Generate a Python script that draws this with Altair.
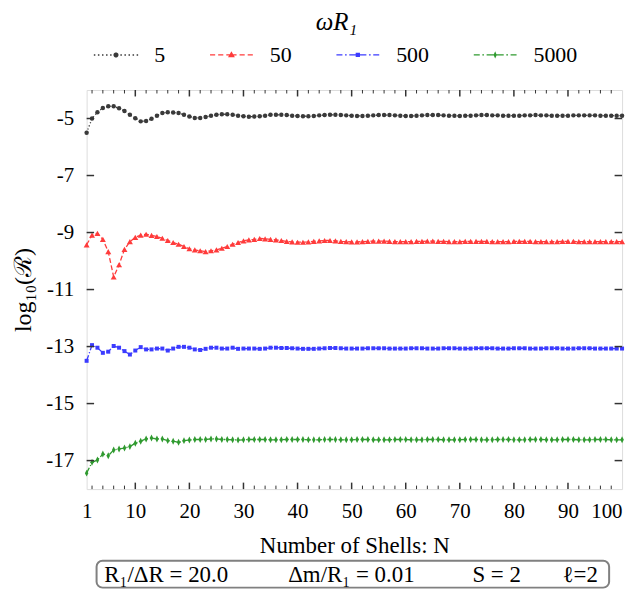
import altair as alt
import pandas as pd
import numpy as np

# ---------------- data ----------------
N = list(range(1, 101))
series_labels = ["5", "50", "500", "5000"]

y_5 = [-5.50, -5.00, -4.78, -4.63, -4.57, -4.57, -4.64, -4.74, -4.87, -4.99,
       -5.10, -5.09, -5.01, -4.90, -4.81, -4.78, -4.79, -4.81, -4.87, -4.93,
       -4.98, -4.98, -4.95, -4.90, -4.87, -4.85, -4.85, -4.87, -4.90, -4.92,
       -4.94, -4.93, -4.92, -4.90, -4.87, -4.87, -4.87, -4.88, -4.90, -4.91,
       -4.92, -4.92, -4.91, -4.89, -4.88, -4.87, -4.87, -4.88, -4.89, -4.90,
       -4.91, -4.91, -4.90, -4.89, -4.88, -4.88, -4.88, -4.89, -4.90, -4.91,
       -4.91, -4.90, -4.89, -4.88, -4.88, -4.88, -4.89, -4.90, -4.90, -4.91,
       -4.90, -4.90, -4.89, -4.88, -4.88, -4.89, -4.89, -4.90, -4.90, -4.90,
       -4.90, -4.89, -4.89, -4.88, -4.89, -4.89, -4.90, -4.90, -4.90, -4.90,
       -4.89, -4.89, -4.89, -4.89, -4.89, -4.90, -4.90, -4.90, -4.90, -4.90]

y_50 = [-9.43, -9.09, -9.03, -9.24, -9.67, -10.56, -10.13, -9.59, -9.32, -9.17,
        -9.09, -9.06, -9.10, -9.14, -9.20, -9.28, -9.35, -9.41, -9.49, -9.57,
        -9.61, -9.64, -9.67, -9.64, -9.61, -9.55, -9.49, -9.41, -9.35, -9.29,
        -9.26, -9.24, -9.21, -9.22, -9.24, -9.26, -9.28, -9.31, -9.33, -9.34,
        -9.34, -9.33, -9.31, -9.29, -9.28, -9.28, -9.29, -9.31, -9.32, -9.33,
        -9.33, -9.32, -9.31, -9.30, -9.30, -9.30, -9.31, -9.32, -9.32, -9.32,
        -9.32, -9.31, -9.31, -9.30, -9.30, -9.31, -9.31, -9.32, -9.32, -9.32,
        -9.31, -9.31, -9.31, -9.31, -9.31, -9.32, -9.32, -9.32, -9.32, -9.31,
        -9.31, -9.31, -9.31, -9.32, -9.32, -9.32, -9.32, -9.32, -9.31, -9.31,
        -9.31, -9.32, -9.32, -9.32, -9.32, -9.32, -9.32, -9.32, -9.32, -9.32]

y_500 = [-13.50, -12.95, -13.04, -13.22, -13.18, -12.98, -13.04, -13.16, -13.28, -13.14,
         -13.02, -13.10, -13.10, -13.07, -13.07, -13.14, -13.07, -13.01, -13.01, -13.04,
         -13.10, -13.12, -13.08, -13.04, -13.04, -13.07, -13.07, -13.04, -13.08, -13.07,
         -13.07, -13.07, -13.08, -13.07, -13.04, -13.04, -13.05, -13.05, -13.06, -13.07,
         -13.08, -13.08, -13.08, -13.07, -13.06, -13.05, -13.05, -13.06, -13.07, -13.07,
         -13.07, -13.07, -13.06, -13.06, -13.06, -13.06, -13.07, -13.07, -13.07, -13.07,
         -13.06, -13.06, -13.06, -13.07, -13.07, -13.07, -13.06, -13.06, -13.06, -13.07,
         -13.07, -13.07, -13.06, -13.06, -13.06, -13.06, -13.07, -13.07, -13.07, -13.06,
         -13.06, -13.06, -13.07, -13.07, -13.07, -13.06, -13.06, -13.06, -13.07, -13.07,
         -13.07, -13.06, -13.06, -13.06, -13.07, -13.07, -13.07, -13.07, -13.07, -13.07]

y_5000 = [-17.44, -17.06, -16.98, -16.77, -16.83, -16.63, -16.59, -16.56, -16.51, -16.39,
          -16.32, -16.24, -16.21, -16.24, -16.24, -16.30, -16.32, -16.36, -16.30, -16.28,
          -16.26, -16.26, -16.26, -16.24, -16.24, -16.26, -16.26, -16.27, -16.28, -16.27,
          -16.26, -16.26, -16.26, -16.26, -16.27, -16.27, -16.27, -16.26, -16.26, -16.26,
          -16.26, -16.27, -16.27, -16.27, -16.26, -16.26, -16.26, -16.27, -16.27, -16.27,
          -16.26, -16.26, -16.26, -16.27, -16.27, -16.27, -16.27, -16.26, -16.26, -16.26,
          -16.27, -16.27, -16.27, -16.26, -16.26, -16.26, -16.27, -16.27, -16.27, -16.27,
          -16.26, -16.26, -16.26, -16.27, -16.27, -16.27, -16.26, -16.26, -16.26, -16.27,
          -16.27, -16.27, -16.26, -16.26, -16.26, -16.27, -16.27, -16.27, -16.26, -16.26,
          -16.26, -16.27, -16.27, -16.27, -16.26, -16.26, -16.26, -16.27, -16.27, -16.27]

x_tick_labels = [1, 10, 20, 30, 40, 50, 60, 70, 80, 90, 100]
x_major_ticks = [10, 20, 30, 40, 50, 60, 70, 80, 90]
x_minor_ticks = [2, 4, 6, 8, 12, 14, 16, 18, 22, 24, 26, 28, 32, 34, 36, 38,
                 42, 44, 46, 48, 52, 54, 56, 58, 62, 64, 66, 68, 72, 74, 76, 78,
                 82, 84, 86, 88, 92, 94, 96, 98]
y_major_ticks = [-5, -7, -9, -11, -13, -15, -17]
x_domain = [1, 100]
y_domain = [-18, -4]

legend_title = "ωR₁"
x_title = "Number of Shells: N"
y_title = "log₁₀(ℛ)"
box_texts = ["R₁/ΔR = 20.0", "Δm/R₁ = 0.01", "S = 2", "ℓ=2"]

# ---------------- styling ----------------
W, H = 538, 401
FONT = "Liberation Serif"
colors = ["#3a3a3a", "#ff3b3b", "#3b3bff", "#2f9a2f"]
dashes = [[1.2, 2.2], [5, 2.5], [6, 2, 1.2, 2], [6, 2, 1.2, 2]]
FRAME = "#333333"


def bar(x0, x1, h=0.032):
    return f"M{x0:.3f},{-h:.3f}H{x1:.3f}V{h:.3f}H{x0:.3f}Z"


def poly(r, n=14):
    pts = [(r * np.cos(2 * np.pi * k / n), r * np.sin(2 * np.pi * k / n)) for k in range(n)]
    return "M" + "L".join(f"{a:.3f},{b:.3f}" for a, b in pts) + "Z"


dotted = "".join(bar(c - 0.035, c + 0.035, 0.035) for c in [-1.0, -0.81, -0.62, -0.43, -0.24, 0.24, 0.43, 0.62, 0.81, 1.0])
path_5 = dotted + poly(0.12)
path_50 = "".join(bar(a, b) for a, b in [(-1, -0.76), (-0.62, -0.38), (-0.24, 0.24), (0.38, 0.62), (0.76, 1.0)]) \
    + "M0,-0.17L0.16,0.11L-0.16,0.11Z"
dashdot = "".join(bar(a, b) for a, b in [(-1, -0.72), (-0.6, -0.52), (-0.4, 0.4), (0.52, 0.6), (0.72, 1.0)])
path_500 = dashdot + "M-0.1,-0.1H0.1V0.1H-0.1Z"
path_5000 = dashdot + "M0,-0.17L0.075,0L0,0.17L-0.075,0Z"
legend_paths = [path_5, path_50, path_500, path_5000]

markers = [("circle", 20), ("triangle-up", 36), ("square", 16), ("M0,-1L0.5,0L0,1L-0.5,0Z", 49)]

# ---------------- data frames ----------------
series_values = [y_5, y_50, y_500, y_5000]
frames = [pd.DataFrame({"N": N, "v": vals, "series": lab}) for lab, vals in zip(series_labels, series_values)]
long_df = pd.concat(frames, ignore_index=True)

x_scale = alt.Scale(domain=x_domain, nice=False, zero=False)
y_scale = alt.Scale(domain=y_domain, nice=False, zero=False)

x_axis = alt.Axis(values=x_tick_labels, labelExpr="datum.value + ''", ticks=False, tickSize=0, domain=False, grid=False,
                  labelFont=FONT, labelFontSize=21, labelColor="black", labelPadding=12,
                  labelFlush=False,
                  labelAlign={"condition": {"test": "datum.value == 100", "value": "right"}, "value": "center"},
                  labelOverlap=False,
                  title=x_title, titleFont=FONT, titleFontSize=23,
                  titleFontWeight="normal", titleColor="black", titleBaseline="alphabetic", titleY=64)
y_axis = alt.Axis(values=y_major_ticks, labelExpr="datum.value + ''", ticks=False, tickSize=0, domain=False, grid=False,
                  labelFont=FONT, labelFontSize=21, labelColor="black", labelPadding=13,
                  title=y_title, titleFont=FONT, titleFontSize=24, titleFontWeight="normal",
                  titleColor="black", titleX=-63, titleBaseline="middle")

xe = alt.X("N:Q", scale=x_scale, axis=x_axis)
ye = alt.Y("v:Q", scale=y_scale, axis=y_axis)

layers = []
for lab, frame, col, dash, (shp, sz) in zip(series_labels, frames, colors, dashes, markers):
    layers.append(alt.Chart(frame).mark_line(color=col, strokeDash=dash, strokeWidth=1.3).encode(x=xe, y=ye))
    layers.append(alt.Chart(frame).mark_point(color=col, filled=True, shape=shp, size=sz, opacity=1).encode(x=xe, y=ye))

legend_spec = alt.Legend(orient="none", legendX=8, legendY=-80, direction="horizontal", columns=4,
                         symbolSize=1849, symbolOpacity=1, symbolStrokeWidth=0,
                         labelFont=FONT, labelFontSize=22, labelColor="black", labelOffset=17,
                         columnPadding=45, padding=0, title=legend_title, titleFont=FONT,
                         titleFontSize=25, titleFontStyle="italic", titleFontWeight="normal",
                         titleColor="black", titleAnchor="middle", titlePadding=-2)
legend_layer = alt.Chart(long_df).mark_point(filled=True, opacity=0).encode(
    x=xe, y=ye,
    color=alt.Color("series:N", scale=alt.Scale(domain=series_labels, range=colors), legend=legend_spec, title=legend_title),
    shape=alt.Shape("series:N", scale=alt.Scale(domain=series_labels, range=legend_paths), legend=legend_spec, title=legend_title),
)
layers.append(legend_layer)

# inward ticks (positions through the data scales)
tick_col = FRAME
xt_major = pd.DataFrame({"t": x_major_ticks})
xt_minor = pd.DataFrame({"t": x_minor_ticks})
yt_major = pd.DataFrame({"t": y_major_ticks})
xt = alt.X("t:Q", scale=x_scale, axis=x_axis)
yt = alt.Y("t:Q", scale=y_scale, axis=y_axis)
for df_t, ln, sw in [(xt_major, 6.5, 1.5), (xt_minor, 3.5, 1.0)]:
    layers.append(alt.Chart(df_t).mark_rule(color=tick_col, strokeWidth=sw).encode(x=xt, y=alt.value(0), y2=alt.value(ln)))
    layers.append(alt.Chart(df_t).mark_rule(color=tick_col, strokeWidth=sw).encode(x=xt, y=alt.value(H), y2=alt.value(H - ln)))
layers.append(alt.Chart(yt_major).mark_rule(color=tick_col, strokeWidth=1.5).encode(y=yt, x=alt.value(0), x2=alt.value(7.5)))
layers.append(alt.Chart(yt_major).mark_rule(color=tick_col, strokeWidth=1.5).encode(y=yt, x=alt.value(W), x2=alt.value(W - 7.5)))

# parameter box below the axis title
one = pd.DataFrame({"k": [0]})
layers.append(alt.Chart(one).mark_rect(fill="white", stroke="#808080", strokeWidth=2, cornerRadius=6, clip=False).encode(
    x=alt.value(10), x2=alt.value(525), y=alt.value(H + 72), y2=alt.value(H + 99)))
for txt, xpos in zip(box_texts, [80, 266, 412, 496]):
    layers.append(alt.Chart(pd.DataFrame({"s": [txt]})).mark_text(font=FONT, fontSize=23, color="black",
                                                                   align="center", baseline="middle", clip=False).encode(
        text="s:N", x=alt.value(xpos), y=alt.value(H + 86)))

chart = alt.layer(*layers).properties(
    width=W, height=H,
    autosize=alt.AutoSizeParams(type="none"),
    padding={"left": 79, "top": 81, "right": 14, "bottom": 101},
).configure_view(stroke=FRAME, strokeWidth=1.6).configure(background="white", font=FONT)

chart.save("out.html", embed_options={"renderer": "svg", "actions": False})
